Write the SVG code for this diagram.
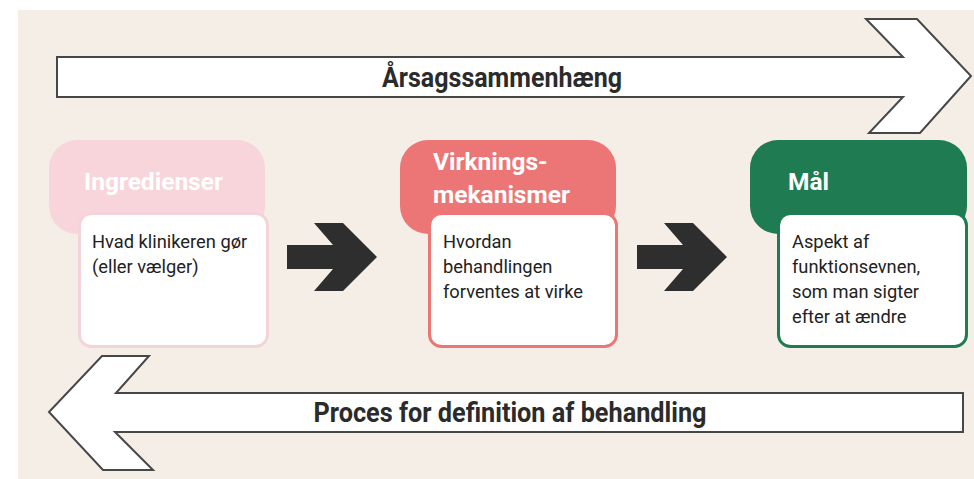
<svg xmlns="http://www.w3.org/2000/svg" width="974" height="479" viewBox="0 0 974 479">
  <style>
    .band { fill: #ffffff; stroke: #474747; stroke-width: 2; stroke-linejoin: miter; }
    .band-label { font-family: "Roboto", "Liberation Sans", sans-serif; font-weight: 700; font-size: 28px; fill: #2b2b2b; text-anchor: middle; }
    .head-label { font-family: "Roboto", "Liberation Sans", sans-serif; font-weight: 700; font-size: 24.5px; fill: #ffffff; }
    .body-label { font-family: "Roboto", "Liberation Sans", sans-serif; font-size: 18.3px; fill: #222222; }
    .step { fill: #2e2e2e; }
    .card { fill: #ffffff; stroke-width: 3; }
  </style>

  <!-- backdrop -->
  <rect x="18" y="10" width="956" height="469" fill="#f5eee7"/>

  <!-- wide process arrows -->
  <g id="arrow-cause">
    <polygon class="band" points="57,57 903,57 866,19 917,19 971,76 920,133 869,133 903,97 57,97"/>
    <text class="band-label" x="502" y="87" textLength="240" lengthAdjust="spacingAndGlyphs">Årsagssammenhæng</text>
  </g>
  <g id="arrow-process">
    <polygon class="band" points="963,393 116,393 149,356 102,356 49,412 103,470 153,470 115,432 963,432"/>
    <text class="band-label" x="510" y="422" textLength="393" lengthAdjust="spacingAndGlyphs">Proces for definition af behandling</text>
  </g>

  <!-- node: ingredients -->
  <g id="node-ingredienser">
    <rect x="49" y="140" width="216" height="94" rx="28" fill="#f7d5db"/>
    <rect class="card" x="79.5" y="213.5" width="188" height="133" rx="12" stroke="#f5d3da"/>
    <text class="head-label" x="84" y="190">Ingredienser</text>
    <text class="body-label" x="92" y="248">Hvad klinikeren gør</text>
    <text class="body-label" x="92" y="273">(eller vælger)</text>
  </g>

  <!-- node: mechanisms -->
  <g id="node-virkningsmekanismer">
    <rect x="400" y="140" width="216" height="94" rx="28" fill="#ec7676"/>
    <rect class="card" x="429.5" y="213.5" width="187" height="133" rx="12" stroke="#ec7676"/>
    <text class="head-label" x="433" y="170">Virknings-</text>
    <text class="head-label" x="433" y="203">mekanismer</text>
    <text class="body-label" x="443" y="248">Hvordan</text>
    <text class="body-label" x="443" y="273">behandlingen</text>
    <text class="body-label" x="443" y="298">forventes at virke</text>
  </g>

  <!-- node: goal -->
  <g id="node-maal">
    <rect x="750" y="140" width="217" height="94" rx="28" fill="#1f7b52"/>
    <rect class="card" x="778.5" y="213.5" width="188" height="133" rx="12" stroke="#1f7b52"/>
    <text class="head-label" x="788" y="190">Mål</text>
    <text class="body-label" x="792" y="248">Aspekt af</text>
    <text class="body-label" x="792" y="273">funktionsevnen,</text>
    <text class="body-label" x="792" y="298">som man sigter</text>
    <text class="body-label" x="792" y="323">efter at ændre</text>
  </g>

  <!-- connectors between steps -->
  <g id="connectors">
    <polygon class="step" points="287,245 333,245 314,223 343,223 377,257 343,291 314,291 333,269 287,269"/>
    <polygon class="step" points="637,245 683,245 664,223 693,223 727,257 693,291 664,291 683,269 637,269"/>
  </g>
</svg>
